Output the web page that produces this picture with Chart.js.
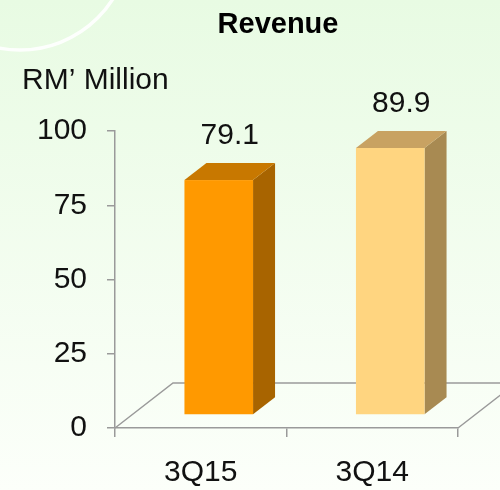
<!DOCTYPE html>
<html>
<head>
<meta charset="utf-8">
<script src="https://cdn.jsdelivr.net/npm/chart.js@4"></script>
<style>
  html, body { margin: 0; padding: 0; background: #f4fdf0; }
  #wrap { width: 500px; height: 490px; position: relative; }
</style>
</head>
<body>
<div id="wrap"><canvas id="revenueChart" width="500" height="490"></canvas></div>
<script>
const quarters = ["3Q15", "3Q14"];
const revenue = [79.1, 89.9];
const frontColors = ["#ff9900", "#ffd580"];
const sideColors = ["#a86400", "#a88a52"];
const topColors = ["#c87800", "#c8a262"];
const yTicks = [0, 25, 50, 75, 100];

const FONT = "'Liberation Sans', Arial, sans-serif";
const AXIS_COLOR = "#9a9a9a";

// floor depth and bar offset/depth for the 3D look
const floorDepth = { x: 58, y: -45 };
const barShift = { x: 18, y: -13 };
const barDepth = { x: 22, y: -17 };

const backdrop = {
    id: "backdrop",
    beforeDraw(chart) {
        const ctx = chart.ctx;
        ctx.save();
        const g = ctx.createLinearGradient(0, 0, 0, chart.height);
        g.addColorStop(0, "#e8fbe3");
        g.addColorStop(1, "#fcfffa");
        ctx.fillStyle = g;
        ctx.fillRect(0, 0, chart.width, chart.height);
        ctx.strokeStyle = "rgba(255,255,255,0.9)";
        ctx.lineWidth = 3.5;
        ctx.beginPath();
        ctx.arc(20, -60, 110, 0, Math.PI);
        ctx.stroke();
        ctx.restore();
    }
};

const floor3d = {
    id: "floor3d",
    beforeDatasetsDraw(chart) {
        const ctx = chart.ctx;
        const a = chart.chartArea;
        ctx.save();
        ctx.strokeStyle = AXIS_COLOR;
        ctx.lineWidth = 1.5;
        ctx.beginPath();
        ctx.moveTo(a.left, a.bottom);
        ctx.lineTo(a.left + floorDepth.x, a.bottom + floorDepth.y);
        ctx.lineTo(a.right + floorDepth.x, a.bottom + floorDepth.y);
        ctx.moveTo(a.right, a.bottom);
        ctx.lineTo(a.right + floorDepth.x, a.bottom + floorDepth.y);
        ctx.stroke();
        ctx.restore();
    },
    afterDatasetsDraw(chart) {
        const ctx = chart.ctx;
        const meta = chart.getDatasetMeta(0);
        ctx.save();
        meta.data.forEach(function (bar, i) {
            const p = bar.getProps(["x", "y", "base", "width"], true);
            const l = p.x - p.width / 2 + barShift.x;
            const r = p.x + p.width / 2 + barShift.x;
            const t = p.y + barShift.y;
            const b = p.base + barShift.y;

            ctx.fillStyle = sideColors[i];
            ctx.beginPath();
            ctx.moveTo(r, t);
            ctx.lineTo(r + barDepth.x, t + barDepth.y);
            ctx.lineTo(r + barDepth.x, b + barDepth.y);
            ctx.lineTo(r, b);
            ctx.closePath();
            ctx.fill();

            ctx.fillStyle = topColors[i];
            ctx.beginPath();
            ctx.moveTo(l, t);
            ctx.lineTo(l + barDepth.x, t + barDepth.y);
            ctx.lineTo(r + barDepth.x, t + barDepth.y);
            ctx.lineTo(r, t);
            ctx.closePath();
            ctx.fill();

            ctx.fillStyle = frontColors[i];
            ctx.fillRect(l, t, r - l, b - t);

            // value label
            ctx.fillStyle = "#111";
            ctx.font = "30px " + FONT;
            ctx.textAlign = "center";
            ctx.textBaseline = "alphabetic";
            ctx.fillText(revenue[i].toFixed(1), (l + r + barDepth.x) / 2, t + barDepth.y - 19);
        });

        // titles
        ctx.fillStyle = "#000";
        ctx.textAlign = "center";
        ctx.font = "bold 29px " + FONT;
        ctx.fillText("Revenue", 278, 33);
        ctx.textAlign = "left";
        ctx.fillStyle = "#111";
        ctx.font = "30px " + FONT;
        ctx.fillText("RM\u2019 Million", 22, 89);
        ctx.restore();
    }
};

new Chart(document.getElementById("revenueChart"), {
    type: "bar",
    data: {
        labels: quarters,
        datasets: [
            {
                label: "Revenue",
                data: revenue,
                backgroundColor: "rgba(0,0,0,0)",
                borderWidth: 0,
                barPercentage: 0.4,
                categoryPercentage: 1
            }
        ]
    },
    options: {
        responsive: false,
        animation: false,
        layout: {
            padding: { top: 131, right: 42, left: 0, bottom: 0 }
        },
        scales: {
            x: {
                grid: {
                    drawOnChartArea: false,
                    color: AXIS_COLOR,
                    lineWidth: 1.5,
                    tickLength: 9
                },
                border: { color: AXIS_COLOR, width: 1.5 },
                ticks: {
                    color: "#111",
                    font: { family: FONT, size: 30 },
                    padding: 18
                },
                afterFit(scale) {
                    scale.height = 62;
                }
            },
            y: {
                min: 0,
                max: 100,
                afterBuildTicks(scale) {
                    scale.ticks = yTicks.map(v => ({ value: v }));
                },
                grid: {
                    drawOnChartArea: false,
                    color: AXIS_COLOR,
                    lineWidth: 1.5,
                    tickLength: 8
                },
                border: { color: AXIS_COLOR, width: 1.5 },
                ticks: {
                    color: "#111",
                    font: { family: FONT, size: 30 },
                    padding: 20
                },
                afterFit(scale) {
                    scale.width = 115;
                }
            }
        },
        plugins: {
            legend: { display: false },
            title: { display: false },
            tooltip: { enabled: false }
        }
    },
    plugins: [backdrop, floor3d]
});
</script>
</body>
</html>
